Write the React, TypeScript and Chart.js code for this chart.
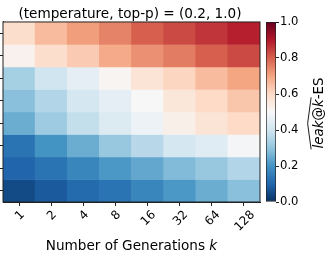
import React, { useEffect, useRef } from 'react';
import { Chart, registerables } from 'chart.js';

Chart.register(...registerables);

// ---------- data ----------
const generations = ['1', '2', '4', '8', '16', '32', '64', '128'];
// rows from top to bottom of the heatmap
const row1 = [0.59, 0.66, 0.71, 0.75, 0.8, 0.83, 0.86, 0.89];
const row2 = [0.52, 0.59, 0.63, 0.69, 0.73, 0.76, 0.8, 0.83];
const row3 = [0.33, 0.4, 0.45, 0.51, 0.57, 0.61, 0.66, 0.7];
const row4 = [0.29, 0.35, 0.41, 0.45, 0.5, 0.56, 0.6, 0.64];
const row5 = [0.25, 0.32, 0.38, 0.43, 0.47, 0.53, 0.57, 0.6];
const row6 = [0.13, 0.2, 0.25, 0.31, 0.36, 0.41, 0.44, 0.49];
const row7 = [0.1, 0.13, 0.17, 0.21, 0.24, 0.28, 0.31, 0.35];
const row8 = [0.05, 0.08, 0.11, 0.13, 0.17, 0.21, 0.25, 0.29];
const rows = [row1, row2, row3, row4, row5, row6, row7, row8];
const colorbarTicks = [0, 0.2, 0.4, 0.6, 0.8, 1.0];
const titleText = '(temperature, top-p) = (0.2, 1.0)';
const xTitleMain = 'Number of Generations ';
const xTitleVar = 'k';

// RdBu_r colormap stops (value 0 -> 1)
const RDBU_R = ['#053061', '#2166ac', '#4393c3', '#92c5de', '#d1e5f0', '#f7f7f7', '#fddbc7', '#f4a582', '#d6604d', '#b2182b', '#67001f'];

const FONT = '"DejaVu Sans", "Liberation Sans", sans-serif';
const INK = '#000';
const SPINE = '#222';

function hexToRgb(h: string) {
  const n = parseInt(h.slice(1), 16);
  return [(n >> 16) & 255, (n >> 8) & 255, n & 255];
}
function rdbu(v: number) {
  const t = Math.max(0, Math.min(1, v)) * (RDBU_R.length - 1);
  const i = Math.min(Math.floor(t), RDBU_R.length - 2);
  const f = t - i;
  const a = hexToRgb(RDBU_R[i]);
  const b = hexToRgb(RDBU_R[i + 1]);
  const c = a.map((x, k) => Math.round(x + (b[k] - x) * f));
  return `rgb(${c[0]},${c[1]},${c[2]})`;
}

const heatDecor = {
  id: 'heatDecor',
  afterDraw(chart: any) {
    const { ctx, chartArea: ca } = chart;
    const x = chart.scales.x;
    ctx.save();
    // frame
    ctx.strokeStyle = SPINE;
    ctx.lineWidth = 1;
    ctx.strokeRect(ca.left, ca.top, ca.right - ca.left, ca.bottom - ca.top);
    // rotated tick labels, centered on ticks
    const fs = 12;
    ctx.font = `${fs}px ${FONT}`;
    ctx.fillStyle = INK;
    generations.forEach((lab, i) => {
      const px = x.getPixelForTick(i);
      const w = ctx.measureText(lab).width;
      const h = fs * 0.73;
      const bboxH = (w + h) / Math.SQRT2;
      const cy = ca.bottom + 7 + bboxH / 2;
      ctx.save();
      ctx.translate(px, cy);
      ctx.rotate(-Math.PI / 4);
      ctx.textAlign = 'center';
      ctx.textBaseline = 'alphabetic';
      ctx.fillText(lab, 0, h / 2);
      ctx.restore();
    });
    // x title with italic k
    const tfs = 13.6;
    ctx.font = `${tfs}px ${FONT}`;
    const w1 = ctx.measureText(xTitleMain).width;
    ctx.font = `italic ${tfs}px ${FONT}`;
    const w2 = ctx.measureText(xTitleVar).width;
    const cx = (ca.left + ca.right) / 2;
    const start = cx - (w1 + w2) / 2;
    const base = 249.5;
    ctx.textAlign = 'left';
    ctx.textBaseline = 'alphabetic';
    ctx.font = `${tfs}px ${FONT}`;
    ctx.fillText(xTitleMain, start, base);
    ctx.font = `italic ${tfs}px ${FONT}`;
    ctx.fillText(xTitleVar, start + w1, base);
    ctx.restore();
  },
};

const cbarLabel = {
  id: 'cbarLabel',
  afterDraw(chart: any) {
    const { ctx } = chart;
    const fs = 13.4;
    const parts = [
      { t: 'leak', it: true },
      { t: '@', it: false },
      { t: 'k', it: true },
      { t: '-ES', it: false },
    ];
    const widths = parts.map((p) => {
      ctx.font = `${p.it ? 'italic ' : ''}${fs}px ${FONT}`;
      return ctx.measureText(p.t).width;
    });
    const W = widths.reduce((a, b) => a + b, 0);
    const cx = 56;
    const cy = 113;
    ctx.save();
    ctx.translate(cx, cy);
    ctx.rotate(-Math.PI / 2);
    ctx.fillStyle = INK;
    ctx.textAlign = 'left';
    ctx.textBaseline = 'alphabetic';
    const baseY = fs * 0.36;
    let xx = -W / 2;
    parts.forEach((p, i) => {
      ctx.font = `${p.it ? 'italic ' : ''}${fs}px ${FONT}`;
      ctx.fillText(p.t, xx, baseY);
      xx += widths[i];
    });
    // wide hat
    const hx0 = -W / 2 - 1;
    const hx1 = -W / 2 + widths[0] + widths[1] + widths[2] + 2;
    const hy = baseY - fs * 0.76 - 1.5;
    ctx.strokeStyle = INK;
    ctx.lineWidth = 0.9;
    ctx.beginPath();
    ctx.moveTo(hx0, hy);
    ctx.lineTo((hx0 + hx1) / 2, hy - 3.5);
    ctx.lineTo(hx1, hy);
    ctx.stroke();
    ctx.restore();
  },
};

export default function App() {
  const mainRef = useRef<HTMLCanvasElement>(null);
  const cbRef = useRef<HTMLCanvasElement>(null);

  useEffect(() => {
    if (!mainRef.current || !cbRef.current) return;
    Chart.defaults.font.family = FONT;

    const n = rows.length;
    const datasets = rows.map((row, r) => ({
      label: `row${r + 1}`,
      data: row.map(() => [n - r - 1, n - r]),
      backgroundColor: row.map((v) => rdbu(v)),
      borderWidth: 0,
      barPercentage: 1,
      categoryPercentage: 1,
      grouped: false,
    }));

    const main = new Chart(mainRef.current, {
      type: 'bar',
      data: { labels: generations, datasets: datasets as any },
      options: {
        responsive: false,
        animation: false,
        devicePixelRatio: 1,
        layout: { padding: { left: 0, right: 5, top: 0, bottom: 0 } },
        plugins: {
          legend: { display: false },
          tooltip: { enabled: false },
          title: {
            display: true,
            text: titleText,
            color: INK,
            font: { family: FONT, size: 13.6, weight: 'normal' as any, lineHeight: 1.1 },
            padding: { top: 7, bottom: 0 },
          },
        },
        scales: {
          x: {
            type: 'category',
            offset: true,
            grid: { offset: false, drawOnChartArea: false, drawTicks: true, tickLength: 4, color: SPINE },
            border: { display: true, color: SPINE },
            ticks: { display: false },
            afterFit: (s: any) => {
              s.height = 58;
            },
          },
          y: {
            type: 'linear',
            min: 0,
            max: n,
            afterBuildTicks: (s: any) => {
              s.ticks = rows.map((_, i) => ({ value: i + 0.5 }));
            },
            ticks: { display: false },
            grid: { drawOnChartArea: false, drawTicks: true, tickLength: 3.5, color: SPINE },
            border: { display: true, color: SPINE },
            afterFit: (s: any) => {
              s.width = 3;
            },
          },
        },
      },
      plugins: [heatDecor],
    });

    const cb = new Chart(cbRef.current, {
      type: 'bar',
      data: {
        labels: ['cb'],
        datasets: [
          {
            data: [[0, 1]] as any,
            backgroundColor: (c: any) => {
              const ch = c.chart;
              const ca = ch.chartArea;
              if (!ca) return '#f7f7f7';
              const g = ch.ctx.createLinearGradient(0, ca.bottom, 0, ca.top);
              RDBU_R.forEach((col, i) => g.addColorStop(i / (RDBU_R.length - 1), col));
              return g;
            },
            borderColor: SPINE,
            borderWidth: 1,
            borderSkipped: false,
            barPercentage: 1,
            categoryPercentage: 1,
          } as any,
        ],
      },
      options: {
        responsive: false,
        animation: false,
        devicePixelRatio: 1,
        layout: { padding: { left: 4, right: 0, top: 22, bottom: 58 } },
        plugins: { legend: { display: false }, tooltip: { enabled: false } },
        scales: {
          x: { display: false },
          y: {
            position: 'right',
            min: 0,
            max: 1,
            afterBuildTicks: (s: any) => {
              s.ticks = colorbarTicks.map((v) => ({ value: v }));
            },
            ticks: {
              callback: (v: any) => Number(v).toFixed(1),
              font: { family: FONT, size: 11.6 },
              color: INK,
              padding: 1,
            },
            grid: { drawOnChartArea: false, drawTicks: true, tickLength: 3, color: SPINE },
            border: { display: false },
            afterFit: (s: any) => {
              s.width = 55;
            },
          },
        },
      },
      plugins: [cbarLabel],
    });

    return () => {
      main.destroy();
      cb.destroy();
    };
  }, []);

  return (
    <div style={{ position: 'absolute', left: 0, top: 0, width: 331, height: 260, background: '#fff' }}>
      <canvas ref={mainRef} width={265} height={260} style={{ position: 'absolute', left: 0, top: 0, width: 265, height: 260 }} />
      <canvas ref={cbRef} width={69} height={260} style={{ position: 'absolute', left: 262, top: 0, width: 69, height: 260 }} />
    </div>
  );
}
